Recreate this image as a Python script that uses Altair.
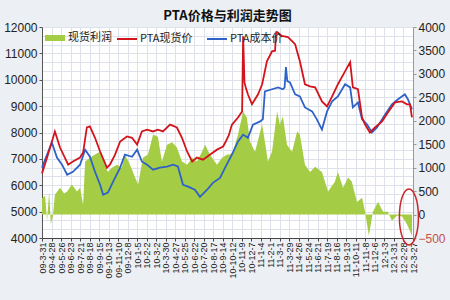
import json
import altair as alt
import pandas as pd

# ---- tick labels (every 28 days from 2009-03-31) ----
tick_labels = ["09-3-31", "09-4-28", "09-5-26", "09-6-23", "09-7-21", "09-8-18", "09-9-15",
               "09-10-13", "09-11-10", "09-12-8", "10-1-5", "10-2-2", "10-3-2", "10-3-30",
               "10-4-27", "10-5-25", "10-6-22", "10-7-20", "10-8-17", "10-9-14", "10-10-12",
               "10-11-9", "10-12-7", "11-1-4", "11-2-1", "11-3-1", "11-3-29", "11-4-26",
               "11-5-24", "11-6-21", "11-7-19", "11-8-16", "11-9-13", "11-10-11", "11-11-8",
               "11-12-6", "12-1-3", "12-1-31", "12-2-28", "12-3-27"]
tick_step = 28

# ---- PTA现货价 (left axis) : day offset / price ----
spot_day = [0, 15, 38, 53, 77, 91, 112, 121, 132, 141, 156, 171, 191, 200, 215, 230, 250, 265,
            280, 294, 309, 327, 341, 356, 377, 397, 412, 427, 442, 456, 474, 494, 515, 533, 539,
            550, 559, 577, 589, 592, 596, 600, 606, 618, 636, 648, 662, 677, 686, 689, 692, 706,
            724, 745, 759, 774, 789, 804, 824, 839, 854, 871, 892, 907, 915, 930, 942, 951, 965,
            980, 1001, 1018, 1039, 1060, 1074, 1083, 1089]
spot_val = [6450, 7050, 8040, 7430, 6780, 6900, 7050, 7240, 8190, 8230, 7800, 7280, 6670, 6780,
            7160, 7660, 7850, 7800, 7540, 8040, 8110, 8040, 8110, 8040, 8300, 8190, 7800, 7280,
            6900, 7050, 6970, 7160, 7350, 7470, 7610, 7900, 8300, 8570, 8800, 11650, 9900, 9700,
            9450, 9070, 9450, 9830, 10700, 11080, 11100, 11800, 11810, 11660, 11620, 11350, 10700,
            9830, 9750, 9710, 9180, 8990, 9370, 9830, 10320, 10670, 9710, 9640, 8570, 8300, 8000,
            8190, 8420, 8760, 9140, 9180, 9070, 9070, 8570]

# ---- PTA成本价 (left axis) ----
cost_day = [0, 15, 29, 44, 59, 74, 91, 112, 127, 141, 156, 171, 180, 194, 209, 230, 244, 265,
            280, 294, 309, 327, 347, 368, 386, 400, 415, 430, 450, 465, 486, 503, 524, 539, 559,
            577, 592, 606, 621, 642, 650, 656, 677, 695, 709, 714, 718, 722, 730, 745, 759, 774,
            795, 809, 824, 839, 854, 871, 892, 907, 915, 930, 942, 957, 971, 986, 1010, 1030,
            1048, 1068, 1077, 1089]
cost_val = [6670, 7160, 7620, 7050, 6780, 6400, 6510, 6780, 7350, 7080, 6510, 6020, 5640, 5720,
            6130, 6670, 7160, 7080, 7350, 6900, 6780, 6590, 6670, 6710, 6780, 6710, 6020, 5950,
            5830, 5560, 5830, 6090, 6280, 6670, 7160, 7660, 7920, 7800, 8300, 8420, 8500, 9560,
            9640, 9710, 9640, 9700, 10480, 9950, 9900, 9450, 9370, 8950, 8800, 8500, 8110, 8800,
            9180, 9370, 9830, 9710, 8950, 9140, 8500, 8300, 8000, 8190, 8680, 9070, 9260, 9450,
            9260, 8880]

# ---- 现货利润 (right axis) ----
profit_day = [0, 9, 15, 21, 26, 32, 38, 53, 65, 74, 88, 103, 112, 121, 127, 141, 156, 171, 185,
              194, 206, 221, 235, 244, 259, 274, 283, 297, 312, 327, 341, 353, 368, 383, 397,
              412, 427, 442, 456, 471, 480, 494, 515, 530, 545, 553, 562, 577, 592, 603, 612,
              627, 648, 656, 665, 677, 692, 700, 709, 721, 736, 751, 759, 774, 789, 804, 824,
              842, 862, 871, 886, 901, 912, 927, 942, 951, 962, 974, 989, 1004, 1018, 1030,
              1045, 1060, 1074, 1089]
profit_val = [350, 400, -130, 490, -200, -40, 420, 570, 450, 490, 640, 490, 570, 210, 1130, 1210,
              1280, 1340, 1060, 910, 1000, 1060, 1000, 1280, 1060, 790, 640, 1210, 1280, 1710,
              1660, 1130, 1490, 1540, 1430, 1130, 1060, 1210, 1130, 1340, 1490, 1280, 1060, 1210,
              1280, 1280, 1340, 1710, 2200, 2070, 1560, 1340, 1920, 1560, 1130, 1340, 2200, 1920,
              2090, 1490, 1340, 1770, 1710, 1060, 910, 1020, 910, 490, 700, 910, 570, 790, 700,
              270, 360, 60, -450, 60, 270, 60, 60, -130, -20, -40, -200, -450]

# ---- annotation ellipse around the latest losses ----
note_day = [1080]
note_profit = [-50]

series_names = ["现货利润", "PTA现货价", "PTA成本价"]
title_text = "PTA价格与利润走势图"

GREEN, RED, BLUE = "#a4cc44", "#d3141c", "#2f62c9"
FONT = "Liberation Sans"
CJK = "Noto Sans CJK SC"

profit_df = pd.DataFrame({"day": profit_day, "profit": profit_val, "kind": series_names[0]})
spot_df = pd.DataFrame({"day": spot_day, "price": spot_val, "series": series_names[1]})
cost_df = pd.DataFrame({"day": cost_day, "price": cost_val, "series": series_names[2]})
note_df = pd.DataFrame({"day": note_day, "profit": note_profit})

tick_days = [i * tick_step for i in range(len(tick_labels))]
label_expr = json.dumps(tick_labels) + "[round(datum.value / %d)]" % tick_step
x_scale = alt.Scale(domain=[0, tick_days[-1]], nice=False, zero=False)

x_enc = alt.X("day:Q", scale=x_scale,
              axis=alt.Axis(values=tick_days, tickCount=1000, labelExpr=label_expr,
                            labelAngle=270, labelFont=FONT, labelFontSize=9, labelColor="#222",
                            labelPadding=1, labelOverlap=False, grid=True,
                            gridColor="#dde2ea", domainColor="#444", tickColor="#444",
                            tickSize=3, title=None))

is_k = "abs(datum.value - round(datum.value / 1000) * 1000) < 1"
left_vals = [4000 + i * 1000 / 3 for i in range(25)]
left_scale = alt.Scale(domain=[4000, 12000], nice=False, zero=False)
y_left = alt.Y("price:Q", scale=left_scale,
               axis=alt.Axis(orient="left", values=left_vals, tickCount=1000,
                             labelExpr=is_k + " ? format(round(datum.value), 'd') : ''",
                             labelOverlap=False, labelFont=FONT, labelFontSize=12,
                             labelColor="#222", labelPadding=2, grid=True,
                             gridColor="#dde2ea", domainColor="#555", tickColor="#555",
                             tickSize=3,
                             tickOpacity={"condition": {"test": is_k, "value": 1}, "value": 0},
                             title=None))

right_scale = alt.Scale(domain=[-500, 4000], nice=False, zero=False)
y_right = alt.Y("profit:Q", scale=right_scale,
                axis=alt.Axis(orient="right", values=list(range(-500, 4001, 500)),
                              tickCount=1000, format="d",
                              labelOverlap=False, labelFont=FONT, labelFontSize=12,
                              labelPadding=2,
                              labelColor={"condition": {"test": "datum.value < 0",
                                                        "value": "#c8504a"}, "value": "#222"},
                              grid=False, domainColor="#999", tickColor="#999", tickSize=3,
                              title=None))

rect_path = "M-1,-0.3L1,-0.3L1,0.3L-1,0.3Z"
area = alt.Chart(profit_df).mark_area(opacity=1).encode(
    x=x_enc, y=y_right,
    fill=alt.Fill("kind:N", scale=alt.Scale(domain=[series_names[0]], range=[GREEN]),
                  legend=alt.Legend(orient="none", legendX=3, legendY=1, direction="horizontal",
                                    title=None, symbolType=rect_path, symbolSize=400,
                                    symbolStrokeWidth=0, labelFont=CJK, labelFontSize=11,
                                    labelColor="#222", labelOffset=3, padding=0)))

ell_path = "M0,-1A0.34,1 0 1,1 0,1A0.34,1 0 1,1 0,-1Z"
note = alt.Chart(note_df).mark_point(shape=ell_path, size=3136, filled=False, color="#c8282d",
                                     strokeWidth=1.5, opacity=1).encode(
    x=alt.X("day:Q", scale=x_scale), y=alt.Y("profit:Q", scale=right_scale))

stroke_enc = alt.Stroke("series:N",
                        scale=alt.Scale(domain=series_names[1:], range=[RED, BLUE]),
                        legend=alt.Legend(orient="none", legendX=74, legendY=1,
                                          direction="horizontal", title=None,
                                          symbolType="stroke", symbolSize=400,
                                          symbolStrokeWidth=2, labelFont=CJK,
                                          labelFontSize=11, labelColor="#222", labelOffset=2,
                                          columnPadding=10, padding=0))
cost_line = alt.Chart(cost_df).mark_line(strokeWidth=1.8).encode(
    x=alt.X("day:Q", scale=x_scale), y=y_left, stroke=stroke_enc)
spot_line = alt.Chart(spot_df).mark_line(strokeWidth=1.8).encode(
    x=alt.X("day:Q", scale=x_scale), y=alt.Y("price:Q", scale=left_scale), stroke=stroke_enc)

right_group = alt.layer(area, note)
left_group = alt.layer(cost_line, spot_line)

chart = alt.layer(right_group, left_group).resolve_scale(y="independent").properties(
    width=371, height=211,
    title=alt.TitleParams(title_text, font=CJK, fontSize=13, fontWeight="bold", color="#111",
                          anchor="middle", offset=2, dy=4),
    autosize=alt.AutoSizeParams(type="none"),
    padding={"left": 42, "top": 27, "right": 37, "bottom": 62},
).configure(background="#eceff3").configure_view(fill="white", stroke=None
).configure_axis(labelOverlap=False, labelBound=False)

chart.save("out.html", embed_options={"renderer": "svg", "actions": False})
